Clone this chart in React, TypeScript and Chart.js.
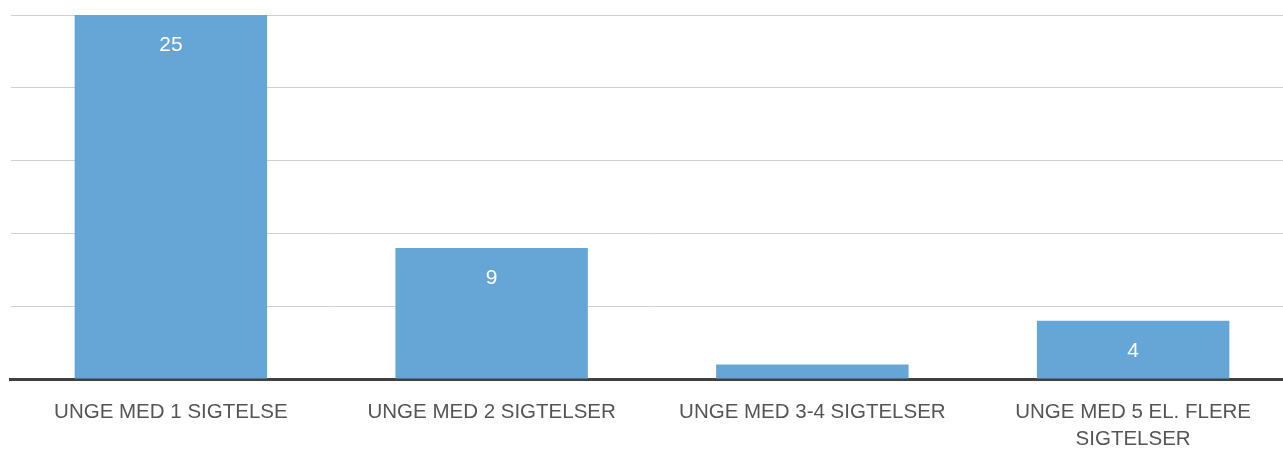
import React, { useEffect, useRef } from "react";
import { Chart, registerables } from "chart.js";

Chart.register(...registerables);

const categories: (string | string[])[] = [
  "UNGE MED 1 SIGTELSE",
  "UNGE MED 2 SIGTELSER",
  "UNGE MED 3-4 SIGTELSER",
  ["UNGE MED 5 EL. FLERE", "SIGTELSER"],
];
const values: number[] = [25, 9, 1, 4];
const shownLabels: boolean[] = [true, true, false, true];
const yMax = 25;
const yStep = 5;

const FONT = "'Liberation Sans', Arial, sans-serif";

const dataLabelPlugin = {
  id: "barValueLabels",
  afterDatasetsDraw(chart: any) {
    const ctx = chart.ctx;
    const meta = chart.getDatasetMeta(0);
    ctx.save();
    ctx.fillStyle = "#ffffff";
    ctx.font = `21px ${FONT}`;
    ctx.textAlign = "center";
    ctx.textBaseline = "middle";
    meta.data.forEach((el: any, i: number) => {
      if (!shownLabels[i]) return;
      ctx.fillText(String(values[i]), el.x, el.y + 30);
    });
    ctx.restore();
  },
};

export default function App() {
  const ref = useRef<HTMLCanvasElement | null>(null);
  useEffect(() => {
    if (!ref.current) return;
    const chart = new Chart(ref.current, {
      type: "bar",
      data: {
        labels: categories,
        datasets: [
          {
            data: values,
            backgroundColor: "#65a6d6",
            borderWidth: 0,
            barPercentage: 0.6,
            categoryPercentage: 1,
          },
        ],
      },
      options: {
        responsive: false,
        animation: false,
        devicePixelRatio: 1,
        layout: { padding: { left: 10.5, top: 15, right: 16.5, bottom: 0 } },
        plugins: {
          legend: { display: false },
          tooltip: { enabled: false },
          title: { display: false },
        },
        scales: {
          x: {
            z: 1,
            grid: { display: false, drawTicks: false },
            border: { display: true, color: "#404040", width: 3 },
            ticks: {
              color: "#555555",
              padding: 19.5,
              maxRotation: 0,
              autoSkip: false,
              font: { family: FONT, size: 20.5, lineHeight: 1.317 },
            },
            afterFit: (scale: any) => {
              scale.height = 73;
            },
          },
          y: {
            min: 0,
            max: yMax,
            ticks: { display: false, stepSize: yStep },
            grid: { color: "#d0d0d0", lineWidth: 1, drawTicks: false },
            border: { display: false },
            afterFit: (scale: any) => {
              scale.width = 0;
            },
          },
        },
      },
      plugins: [dataLabelPlugin],
    });
    return () => chart.destroy();
  }, []);

  return (
    <div
      style={{
        position: "fixed",
        left: 0,
        top: 0,
        width: 1283,
        height: 452,
        overflow: "hidden",
        background: "#ffffff",
      }}
    >
      <canvas
        ref={ref}
        width={1310}
        height={452}
        style={{ display: "block", width: 1310, height: 452 }}
      />
    </div>
  );
}
